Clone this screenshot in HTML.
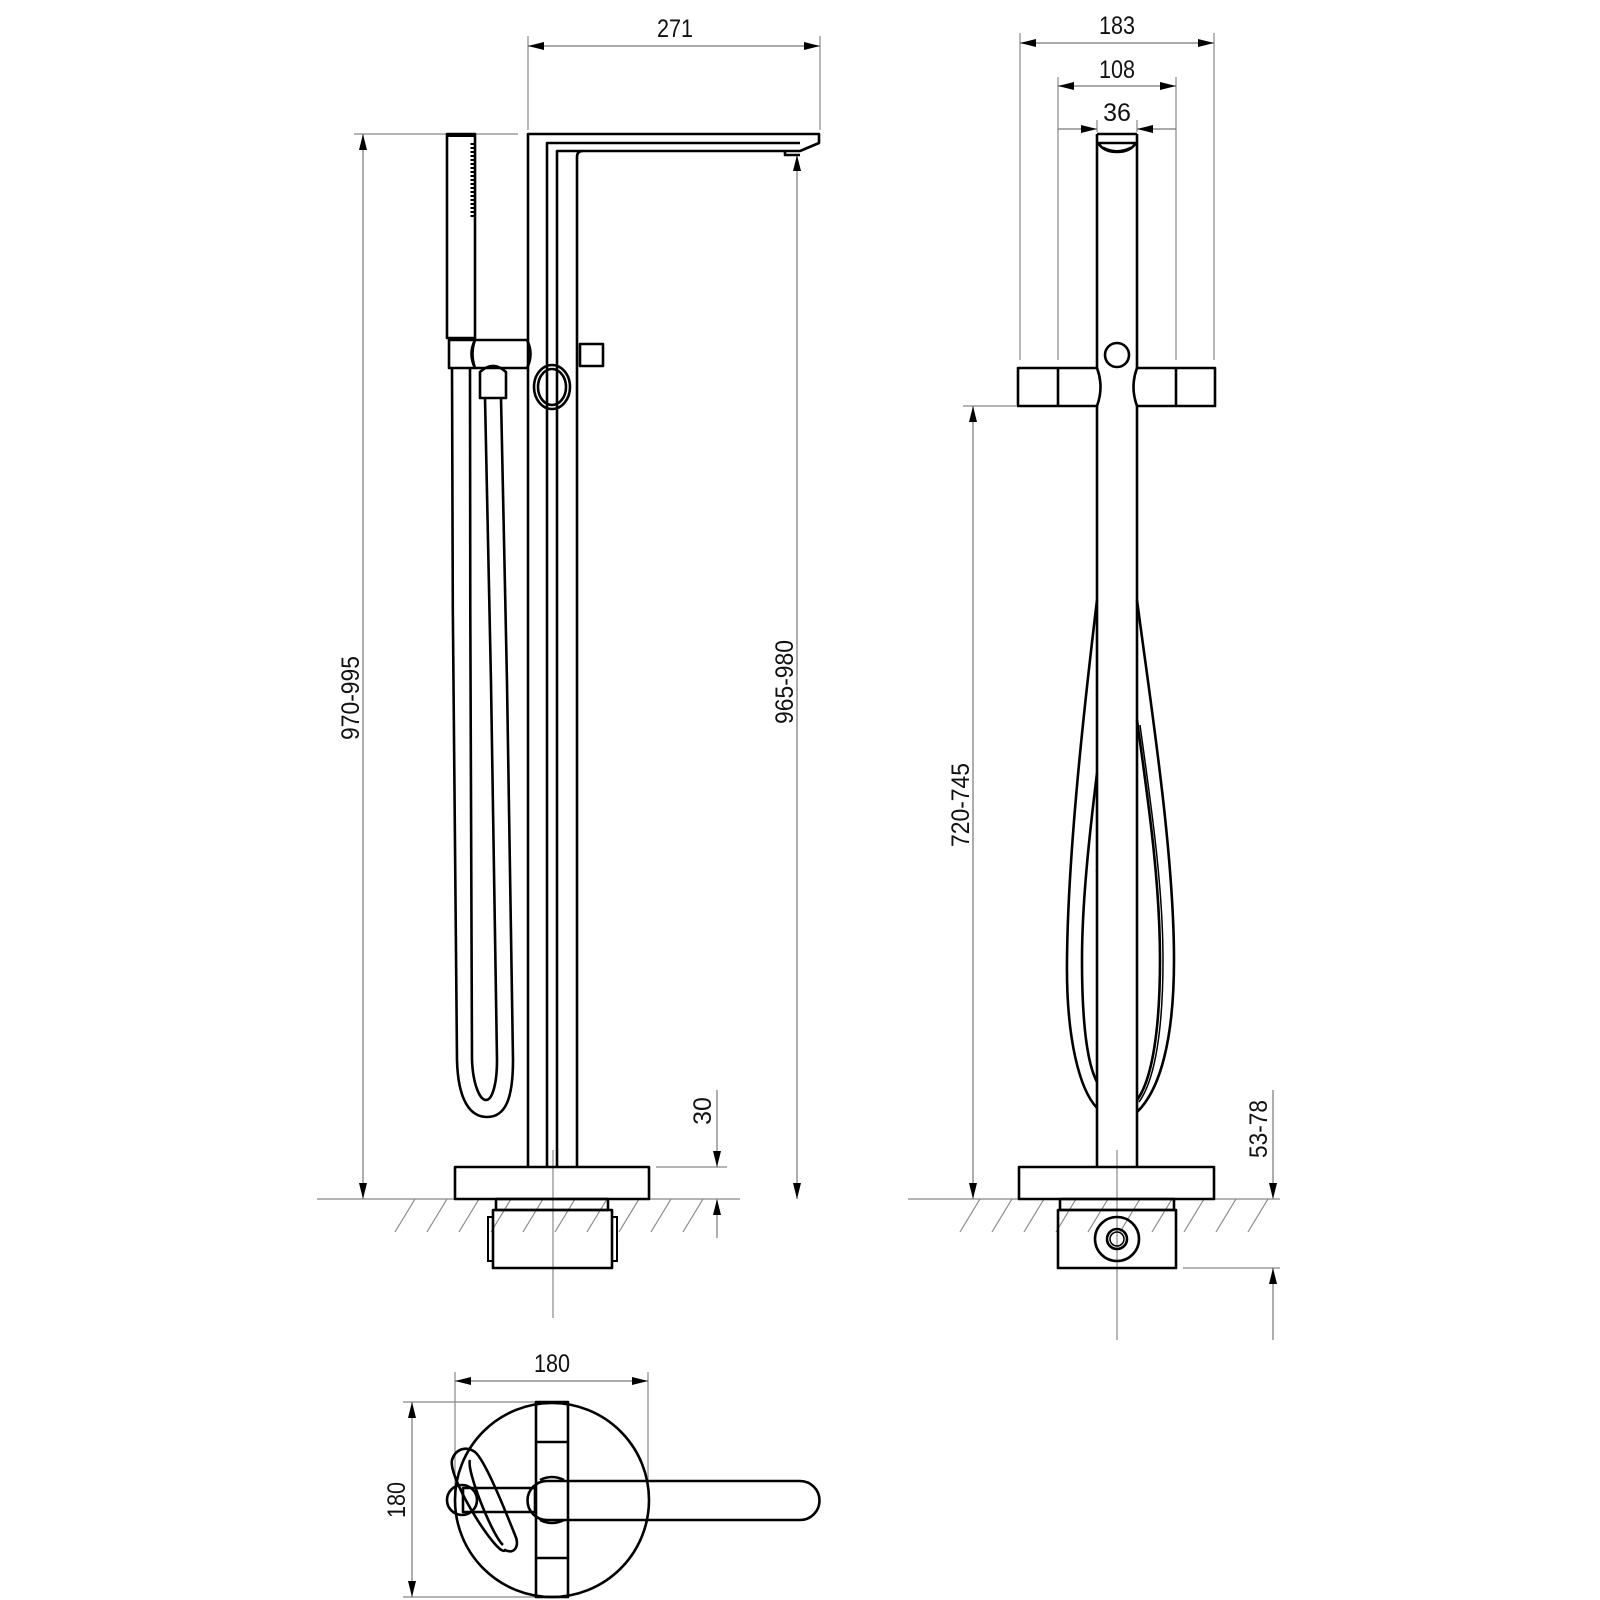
<!DOCTYPE html>
<html><head><meta charset="utf-8"><style>html,body{margin:0;padding:0;background:#fff}svg{display:block}</style></head>
<body>
<svg width="1600" height="1600" viewBox="0 0 1600 1600" xmlns="http://www.w3.org/2000/svg">
<defs>
<marker id="a" viewBox="0 0 16 10" refX="16" refY="5" markerWidth="16" markerHeight="10" markerUnits="userSpaceOnUse" orient="auto-start-reverse"><path d="M0,1 L16,5 L0,9 Z" fill="#000"/></marker>
</defs>
<style>
.d{stroke:#888;stroke-width:1.2;fill:none}
.dm{stroke:#777;stroke-width:1.2;fill:none}
.o{stroke:#000;stroke-width:2.6;fill:none;stroke-linejoin:round}
.t{font-family:"Liberation Sans",sans-serif;font-size:25px;fill:#111;text-anchor:middle}
</style>

<!-- ===== LEFT SIDE VIEW ===== -->
<line class="d" x1="528" y1="36" x2="528" y2="130"/>
<line class="d" x1="820" y1="36" x2="820" y2="130"/>
<line class="dm" x1="528" y1="46" x2="820" y2="46" marker-start="url(#a)" marker-end="url(#a)"/>
<text class="t" x="675" y="37" textLength="36" lengthAdjust="spacingAndGlyphs">271</text>

<line class="d" x1="354" y1="134" x2="518" y2="134"/>
<line class="dm" x1="363" y1="134" x2="363" y2="1199" marker-start="url(#a)" marker-end="url(#a)"/>
<text class="t" transform="translate(359,698) rotate(-90)" textLength="84" lengthAdjust="spacingAndGlyphs">970-995</text>

<line class="dm" x1="797" y1="155" x2="797" y2="1199" marker-start="url(#a)" marker-end="url(#a)"/>
<text class="t" transform="translate(793,682) rotate(-90)" textLength="84" lengthAdjust="spacingAndGlyphs">965-980</text>

<line class="d" x1="656" y1="1167" x2="727" y2="1167"/>
<line class="dm" x1="717" y1="1090" x2="717" y2="1167" marker-end="url(#a)"/>
<line class="dm" x1="717" y1="1238" x2="717" y2="1199" marker-end="url(#a)"/>
<text class="t" transform="translate(711,1111) rotate(-90)">30</text>

<line class="d" x1="317" y1="1199" x2="740" y2="1199"/>
<g class="d">
<line x1="395" y1="1232" x2="415" y2="1199"/><line x1="427" y1="1232" x2="447" y2="1199"/>
<line x1="459" y1="1232" x2="479" y2="1199"/><line x1="491" y1="1232" x2="511" y2="1199"/>
<line x1="523" y1="1232" x2="543" y2="1199"/><line x1="555" y1="1232" x2="575" y2="1199"/>
<line x1="587" y1="1232" x2="607" y2="1199"/><line x1="619" y1="1232" x2="639" y2="1199"/>
<line x1="651" y1="1232" x2="671" y2="1199"/><line x1="683" y1="1232" x2="703" y2="1199"/>
</g>
<line class="d" x1="553" y1="1150" x2="553" y2="1318"/>

<path class="o" d="M528,1167 V134 H819 V143 L800,151 H785 V151"/>
<path class="o" d="M547,1167 V143 H800"/>
<path class="o" d="M557,1167 V151 H785"/>
<path class="o" d="M577,1167 V157 Q577,151 583,151"/>
<path class="o" d="M785,151 V155 H800"/>
<rect class="o" x="580" y="344" width="23" height="22"/>
<ellipse class="o" cx="552" cy="387" rx="18" ry="22" fill="#fff"/>
<ellipse class="o" cx="552" cy="387" rx="14" ry="18"/>
<rect class="o" x="447" y="134" width="28" height="204" fill="#fff"/>
<line x1="447" y1="135" x2="475" y2="135" stroke="#000" stroke-width="4"/>
<line x1="473" y1="143" x2="473" y2="218" stroke="#000" stroke-width="5" stroke-dasharray="2,2"/>
<path class="o" d="M449,340 H475 Q470,354 475,368 H449 Z" fill="#fff"/>
<path class="o" d="M475,340 H527 Q534,354 527,368 H475 Q468,354 475,340 Z" fill="#fff"/>
<path class="o" d="M480,398 V372 Q493,360 506,372 V398 Z" fill="#fff"/>
<path class="o" d="M452,368 C452,600 455,900 457,1060 C458,1100 470,1117 487,1117 C505,1117 513,1100 513,1060 C511,900 506,600 501,398"/>
<path class="o" d="M470,368 C470,600 471,900 472,1060 C473,1085 480,1100 486,1100 C492,1100 497,1085 497,1060 C495,900 490,600 485,398"/>
<rect class="o" x="455" y="1167" width="194" height="32" fill="#fff"/>
<rect class="o" x="496" y="1199" width="112" height="11"/>
<rect class="o" x="493" y="1210" width="119" height="58"/>
<rect x="488" y="1217" width="5" height="44" fill="none" stroke="#000" stroke-width="2"/>
<rect x="612" y="1217" width="5" height="44" fill="none" stroke="#000" stroke-width="2"/>

<!-- ===== RIGHT FRONT VIEW ===== -->
<line class="d" x1="1020" y1="33" x2="1020" y2="360"/>
<line class="d" x1="1214" y1="33" x2="1214" y2="360"/>
<line class="dm" x1="1020" y1="43" x2="1214" y2="43" marker-start="url(#a)" marker-end="url(#a)"/>
<text class="t" x="1117" y="34" textLength="36" lengthAdjust="spacingAndGlyphs">183</text>
<line class="d" x1="1058" y1="77" x2="1058" y2="360"/>
<line class="d" x1="1176" y1="77" x2="1176" y2="360"/>
<line class="dm" x1="1058" y1="86" x2="1176" y2="86" marker-start="url(#a)" marker-end="url(#a)"/>
<text class="t" x="1117" y="78" textLength="36" lengthAdjust="spacingAndGlyphs">108</text>
<line class="d" x1="1097" y1="120" x2="1097" y2="132"/>
<line class="d" x1="1137" y1="120" x2="1137" y2="132"/>
<line class="dm" x1="1058" y1="129" x2="1097" y2="129" marker-end="url(#a)"/>
<line class="dm" x1="1176" y1="129" x2="1137" y2="129" marker-end="url(#a)"/>
<text class="t" x="1117" y="121">36</text>

<line class="d" x1="963" y1="406" x2="1016" y2="406"/>
<line class="dm" x1="973" y1="406" x2="973" y2="1199" marker-start="url(#a)" marker-end="url(#a)"/>
<text class="t" transform="translate(969,805) rotate(-90)" textLength="84" lengthAdjust="spacingAndGlyphs">720-745</text>

<line class="d" x1="1183" y1="1268" x2="1280" y2="1268"/>
<line class="dm" x1="1273" y1="1090" x2="1273" y2="1199" marker-end="url(#a)"/>
<line class="dm" x1="1273" y1="1340" x2="1273" y2="1268" marker-end="url(#a)"/>
<text class="t" transform="translate(1267,1129) rotate(-90)" textLength="58" lengthAdjust="spacingAndGlyphs">53-78</text>

<line class="d" x1="908" y1="1199" x2="1280" y2="1199"/>
<g class="d">
<line x1="960" y1="1232" x2="980" y2="1199"/><line x1="992" y1="1232" x2="1012" y2="1199"/>
<line x1="1024" y1="1232" x2="1044" y2="1199"/><line x1="1056" y1="1232" x2="1076" y2="1199"/>
<line x1="1088" y1="1232" x2="1108" y2="1199"/><line x1="1120" y1="1232" x2="1140" y2="1199"/>
<line x1="1152" y1="1232" x2="1172" y2="1199"/><line x1="1184" y1="1232" x2="1204" y2="1199"/>
<line x1="1216" y1="1232" x2="1236" y2="1199"/><line x1="1248" y1="1232" x2="1268" y2="1199"/>
</g>
<line class="d" x1="1117" y1="1150" x2="1117" y2="1340"/>

<line class="o" x1="1097" y1="134" x2="1097" y2="368"/>
<line class="o" x1="1137" y1="134" x2="1137" y2="368"/>
<line class="o" x1="1097" y1="406" x2="1097" y2="1167"/>
<line class="o" x1="1137" y1="406" x2="1137" y2="1167"/>
<line class="o" x1="1097" y1="134" x2="1137" y2="134"/>
<path class="o" d="M1098,143 H1136 Q1130,152 1117,152 Q1104,152 1098,143"/>
<path d="M1103,148 Q1117,155 1131,148" stroke="#000" stroke-width="3" fill="none"/>
<circle class="o" cx="1117" cy="355" r="12"/>
<path class="o" d="M1097,368 H1018 V406 H1097 Q1104,387 1097,368 Z" fill="#fff"/>
<path class="o" d="M1137,368 H1215 V406 H1137 Q1130,387 1137,368 Z" fill="#fff"/>
<line class="o" x1="1058" y1="368" x2="1058" y2="406"/>
<line class="o" x1="1176" y1="368" x2="1176" y2="406"/>
<path class="o" d="M1097,600 C1085,700 1068,850 1067,960 C1066,1040 1080,1090 1097,1108"/>
<path class="o" d="M1097,773 C1090,830 1082,900 1082,960 C1082,1030 1088,1065 1097,1082"/>
<path class="o" d="M1137,600 C1150,700 1174,850 1174,960 C1174,1040 1160,1090 1137,1112"/>
<path class="o" d="M1137,720 C1148,800 1160,880 1160,960 C1160,1030 1152,1080 1137,1100"/>
<path stroke="#000" stroke-width="1.5" fill="none" d="M1140,725 C1151,805 1163,885 1163,960 C1163,1030 1155,1080 1139,1102"/>
<rect class="o" x="1019" y="1167" width="195" height="32" fill="#fff"/>
<rect class="o" x="1060" y="1199" width="114" height="11"/>
<rect class="o" x="1058" y="1210" width="118" height="58"/>
<circle class="o" cx="1117" cy="1239" r="22"/>
<circle class="o" cx="1117" cy="1239" r="10"/>
<circle stroke="#000" stroke-width="1.5" fill="none" cx="1117" cy="1239" r="7"/>

<!-- ===== TOP VIEW ===== -->
<line class="d" x1="455" y1="1372" x2="455" y2="1500"/>
<line class="d" x1="648" y1="1372" x2="648" y2="1495"/>
<line class="dm" x1="455" y1="1381" x2="648" y2="1381" marker-start="url(#a)" marker-end="url(#a)"/>
<text class="t" x="552" y="1372" textLength="36" lengthAdjust="spacingAndGlyphs">180</text>
<line class="d" x1="403" y1="1402" x2="540" y2="1402"/>
<line class="d" x1="403" y1="1597" x2="540" y2="1597"/>
<line class="dm" x1="412" y1="1402" x2="412" y2="1597" marker-start="url(#a)" marker-end="url(#a)"/>
<text class="t" transform="translate(405,1500) rotate(-90)" textLength="36" lengthAdjust="spacingAndGlyphs">180</text>

<circle class="o" cx="552" cy="1500" r="97"/>
<rect class="o" x="536" y="1402" width="32" height="195" fill="#fff"/>
<line class="o" x1="536" y1="1442" x2="568" y2="1442"/>
<line class="o" x1="536" y1="1558" x2="568" y2="1558"/>
<path class="o" d="M475,1452 C465,1445 455,1450 452,1460 C448,1480 500,1560 505,1550 C515,1555 520,1545 515,1535 C505,1510 485,1460 475,1452 Z" fill="#fff"/>
<path class="o" d="M470,1460 C466,1470 492,1535 503,1545"/>
<rect class="o" x="463" y="1488" width="72" height="24" fill="#fff"/>
<circle class="o" cx="462" cy="1500" r="15" fill="#fff"/>
<path class="o" d="M540,1480 Q552,1474 564,1480 M540,1520 Q552,1526 564,1520"/>
<path class="o" d="M547,1481 H800 A19.5,19.5 0 0 1 800,1520 H547 A19.5,19.5 0 0 1 547,1481 Z" fill="#fff"/>
</svg>
</body></html>
